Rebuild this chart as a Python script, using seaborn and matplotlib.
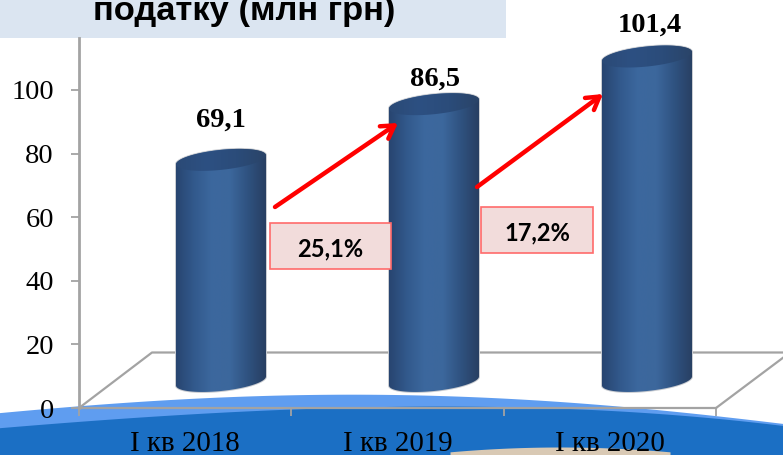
import numpy as np
import pandas as pd
import matplotlib
matplotlib.use("Agg")
import matplotlib.pyplot as plt
import seaborn as sns
from matplotlib.colors import LinearSegmentedColormap
from matplotlib.patches import Polygon, Rectangle

W, H = 783, 455

# chart values
periods = ["I кв 2018", "I кв 2019", "I кв 2020"]
values = [69.1, 86.5, 101.4]
value_labels = ["69,1", "86,5", "101,4"]
y_ticks = [0, 20, 40, 60, 80, 100]
growth_labels = ["25,1%", "17,2%"]
title = "податку (млн грн)"

GREY = "#a3a3a3"

sns.set_theme(style="white")
plt.rcParams["font.family"] = ["Liberation Serif", "DejaVu Serif"]

fig = plt.figure(figsize=(W / 100, H / 100), dpi=100, facecolor="white")


def px_axes(left, top, right, bottom, zorder):
    return fig.add_axes(
        [left / W, 1 - bottom / H, (right - left) / W, (bottom - top) / H],
        zorder=zorder, facecolor="none",
    )


# ---------------------------------------------------------
# background: title band, blue swoosh, floor of the 3D chart
# ---------------------------------------------------------
bg = px_axes(0, 0, W, H, 0)
bg.set_xlim(0, W)
bg.set_ylim(H, 0)
bg.axis("off")

bg.add_patch(Rectangle((0, 0), 506, 38, facecolor="#dbe5f1", edgecolor="none"))
bg.text(244, 20, title, ha="center", va="baseline", fontsize=24.8,
        fontweight="bold", family="Liberation Sans", color="black")

xs = np.linspace(0, W, 200)
rim = np.polyval(np.polyfit([0, 130, 260, 390, 520, 640, 783],
                            [413, 403, 395.5, 395, 400, 408, 424], 4), xs)
dark = np.polyval(np.polyfit([0, 130, 260, 390, 520, 650, 783],
                             [428, 419, 410, 407, 408, 413, 426], 3), xs)
bg.fill_between(xs, rim, dark + 3, color="#5f9df0", lw=0)
bg.fill_between(xs, dark, H, color="#1b6fc4", lw=0)
shine_x = np.linspace(450, 670, 60)
shine = 447 + 0.0004 * (shine_x - 560) ** 2
bg.fill_between(shine_x, shine, H, color="#d9c9b4", lw=0)

bg.plot([79, 152, W + 10], [408, 352.5, 352.5], color=GREY, lw=1.6)
bg.plot([716, 790], [408, 352.5], color=GREY, lw=1.6)

# ---------------------------------------------------------
# axes with the value scale and the period labels
# ---------------------------------------------------------
ax = px_axes(79, 38, 716, 408, 1)
ax.set_xlim(-0.5, 2.5)
ax.set_ylim(0, 370 / 3.18)
sns.despine(ax=ax)
for side in ["left", "bottom"]:
    ax.spines[side].set_color(GREY)
ax.spines["left"].set_linewidth(2)
ax.spines["bottom"].set_linewidth(1.6)
ax.set_yticks(y_ticks)
ax.set_xticks([-0.5, 0.5, 1.5, 2.5])
ax.set_xticklabels([])
ax.set_xticks([0, 1, 2], periods, minor=True)
ax.tick_params(axis="y", left=True, length=6, width=1.3, color=GREY, pad=12,
               labelsize=20.5, labelcolor="black")
ax.tick_params(axis="x", which="major", bottom=True, length=6, width=1.3, color=GREY)
ax.tick_params(axis="x", which="minor", bottom=False, length=0, pad=16.5,
               labelsize=20.8, labelcolor="black")

# ---------------------------------------------------------
# cylinders: seaborn bars, shaded and capped from their geometry
# ---------------------------------------------------------
PX_PER_UNIT = 3.2
BASE_PX = 381
CENTER0_PX, STEP_PX = 221, 213
BAR_PX = 90

bars = px_axes(0, 0, W, H, 2)
df = pd.DataFrame({"period": periods, "value": values})
sns.barplot(data=df, x="period", y="value", ax=bars, width=BAR_PX / STEP_PX,
            color="#3d6aa1", legend=False)
xlim = (-CENTER0_PX / STEP_PX, (W - CENTER0_PX) / STEP_PX)
ylim = ((BASE_PX - H) / PX_PER_UNIT, BASE_PX / PX_PER_UNIT)

body_cmap = LinearSegmentedColormap.from_list(
    "body", ["#284570", "#32598c", "#3c689e", "#3c679c", "#2f5280", "#283f62"])
cap_cmap = LinearSegmentedColormap.from_list(
    "cap", ["#2b4a76", "#2d5082", "#2b4c7a", "#2a4468"])
shade = np.linspace(0, 1, 256).reshape(1, -1)

ry = 10 / PX_PER_UNIT
tilt = 4.5 / PX_PER_UNIT
for bar in list(bars.patches):
    x0, w, top = bar.get_x(), bar.get_width(), bar.get_height()
    bar.set_visible(False)
    cx = x0 + w / 2
    t = np.linspace(0, 2 * np.pi, 121)
    ex = cx + w / 2 * np.cos(t)
    ey = ry * np.sin(t) + tilt * np.cos(t)

    # outline: upper half of the top ellipse + lower half of the bottom one
    upper = t <= np.pi
    lower = t >= np.pi
    outline = np.vstack([
        np.column_stack([ex[upper], top + ey[upper]]),
        np.column_stack([ex[lower], ey[lower]]),
    ])
    bars.add_patch(Polygon(outline, closed=True, facecolor="none",
                           edgecolor="#c9ccd1", lw=1.4, zorder=2))
    im = bars.imshow(shade, cmap=body_cmap, aspect="auto", zorder=3,
                     extent=(x0, x0 + w, -ry - tilt, top + ry + tilt))
    im.set_clip_path(Polygon(outline, closed=True, transform=bars.transData))

    cap = np.column_stack([ex, top + ey])
    im = bars.imshow(shade, cmap=cap_cmap, aspect="auto", zorder=4,
                     extent=(x0, x0 + w, top - ry - tilt, top + ry + tilt))
    im.set_clip_path(Polygon(cap, closed=True, transform=bars.transData))

bars.set_xlim(xlim)
bars.set_ylim(ylim)
bars.axis("off")

# value labels sit by hand above each cylinder, as on the slide
label_gap_px = [33, 18.5, 25]
label_shift_px = [0, 1, 2.5]
for i, val in enumerate(values):
    bars.annotate(value_labels[i], (i, val), xytext=(label_shift_px[i] * 0.72, label_gap_px[i] * 0.72),
                  textcoords="offset points", ha="center", va="baseline",
                  fontsize=20.5, fontweight="bold", color="black", zorder=6)

# ---------------------------------------------------------
# growth arrows and boxes
# ---------------------------------------------------------
top_ax = px_axes(0, 0, W, H, 3)
top_ax.set_xlim(0, W)
top_ax.set_ylim(H, 0)
top_ax.axis("off")

arrows = [((275, 207), (398, 123)), ((477, 187), (603, 94))]
boxes = [(270, 223, 121, 46), (481, 207, 112, 46)]
for (start, end), box, label in zip(arrows, boxes, growth_labels):
    top_ax.annotate("", xy=end, xytext=start,
                    arrowprops=dict(arrowstyle="->,head_length=0.75,head_width=0.45",
                                    color="#ff0000", lw=3.2, shrinkA=0, shrinkB=0))
    bx, by, bw, bh = box
    top_ax.add_patch(Rectangle((bx, by), bw, bh, facecolor="#f2dcdb",
                               edgecolor="#ff6b6b", lw=1.2))
    top_ax.text(bx + bw / 2, by + bh / 2 + 3, label, ha="center", va="center",
                fontsize=17, fontweight="bold", family="Lato", color="black")

fig.savefig("out.png", dpi=100)
